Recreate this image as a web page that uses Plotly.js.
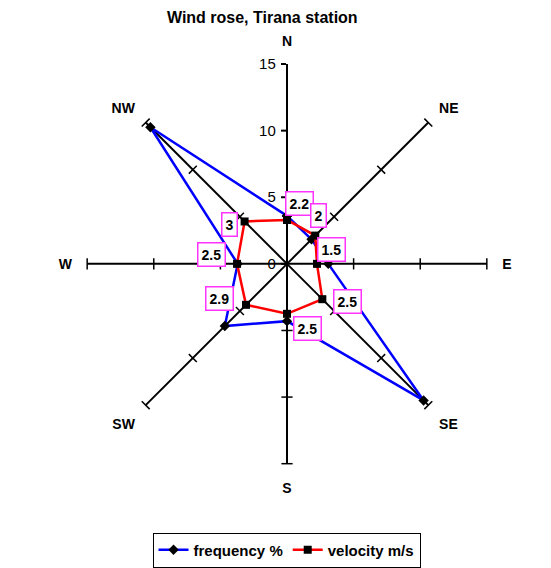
<!DOCTYPE html>
<html><head><meta charset="utf-8">
<script src="https://cdn.plot.ly/plotly-3.0.1.min.js"></script>
<style>html,body{margin:0;padding:0;background:#fff}#chart{width:551px;height:568px}</style>
</head><body><div id="chart"></div>
<script>
// ---- data ----
const directions = ['N', 'NE', 'E', 'SE', 'S', 'SW', 'W', 'NW'];
const frequency = [3.6, 2.6, 3.1, 14.5, 4.3, 6.6, 3.7, 14.5];          // frequency %
const velocityPlotted = [3.3, 3.0, 2.25, 3.75, 3.75, 4.35, 3.75, 4.5];  // radius of velocity marks on the chart scale
const velocityLabels = [2.2, 2, 1.5, 2.5, 2.5, 2.9, 2.5, 3];            // velocity m/s shown in data labels
const radialTicks = [0, 5, 10, 15];

// ---- style / layout (not data) ----
const W = 551, H = 568, CX = 287, CY = 272, R = 206;
const labelShiftX = [12, 2, 14, 24, 20, -25, -24, -14];
const labelShiftY = [16, 20, 14, -2, -15, 6, 9, -3];
const FONT = 'Liberation Sans, Arial, Helvetica, sans-serif';

const domX = [(CX - R) / W, (CX + R) / W];
const domY = [(H - CY - R) / H, (H - CY + R) / H];
const rMax = radialTicks[radialTicks.length - 1];

function closeLoop(a) { return a.concat([a[0]]); }
const angleOf = d => 45 * directions.indexOf(d);

// spoke tick marks (except N, which is the radial axis itself)
const tickR = [], tickT = [], tickA = [];
directions.forEach(d => {
  if (d === 'N') return;
  radialTicks.slice(1).forEach(v => { tickR.push(v); tickT.push(d); tickA.push(angleOf(d)); });
});

// label anchor points on a hidden cartesian overlay matching the polar area
const lx = directions.map((d, i) => velocityPlotted[i] * Math.sin(angleOf(d) * Math.PI / 180));
const ly = directions.map((d, i) => velocityPlotted[i] * Math.cos(angleOf(d) * Math.PI / 180));

const traces = [
  {
    type: 'scatterpolar', r: tickR, theta: tickT, mode: 'markers',
    marker: { symbol: 'line-ew', size: 8, angle: tickA, color: '#000', line: { color: '#000', width: 1.5 } },
    showlegend: false, hoverinfo: 'skip'
  },
  {
    type: 'scatterpolar', name: 'frequency %',
    r: closeLoop(frequency), theta: closeLoop(directions), mode: 'lines+markers',
    line: { color: '#0000ff', width: 2.5 },
    marker: { symbol: 'diamond', size: 8, color: '#000' }
  },
  {
    type: 'scatterpolar', name: 'velocity m/s',
    r: closeLoop(velocityPlotted), theta: closeLoop(directions), mode: 'lines+markers',
    line: { color: '#ff0000', width: 2.5 },
    marker: { symbol: 'square', size: 8, color: '#000' }
  },
  {
    type: 'scatter', x: lx, y: ly, mode: 'markers', xaxis: 'x', yaxis: 'y',
    marker: { opacity: 0, size: 1 }, showlegend: false, hoverinfo: 'skip'
  }
];

const annotations = directions.map((d, i) => ({
  xref: 'x', yref: 'y', x: lx[i], y: ly[i], text: String(velocityLabels[i]),
  showarrow: false, xshift: labelShiftX[i], yshift: labelShiftY[i],
  bgcolor: '#ffffff', bordercolor: '#ff33ff', borderwidth: 1.5, borderpad: 3,
  font: { family: FONT, size: 14, color: '#000', weight: 'bold' }
}));

const layout = {
  width: W, height: H,
  margin: { l: 0, r: 0, t: 0, b: 0 },
  paper_bgcolor: '#fff', plot_bgcolor: 'rgba(0,0,0,0)',
  font: { family: FONT, color: '#000' },
  title: {
    text: 'Wind rose, Tirana station', x: 0.476, xanchor: 'center', y: 1 - 17 / H, yanchor: 'middle',
    font: { family: FONT, size: 16, color: '#000', weight: 'bold' }
  },
  polar: {
    domain: { x: domX, y: domY },
    bgcolor: '#fff',
    angularaxis: {
      type: 'category', categoryarray: directions, direction: 'clockwise', rotation: 90,
      showline: false, showgrid: true, gridcolor: '#000', gridwidth: 2,
      ticks: 'outside', ticklen: 12, tickcolor: 'rgba(0,0,0,0)',
      tickfont: { family: FONT, size: 14, color: '#000', weight: 'bold' }
    },
    radialaxis: {
      range: [0, rMax], angle: 90, side: 'counterclockwise', tickvals: radialTicks, tickangle: 90,
      showline: true, linecolor: '#000', linewidth: 2, showgrid: false,
      ticks: 'outside', ticklen: 5, tickwidth: 2, tickcolor: '#000',
      tickfont: { family: FONT, size: 15, color: '#000' }
    }
  },
  xaxis: { domain: domX, range: [-rMax, rMax], visible: false, fixedrange: true },
  yaxis: { domain: domY, range: [-rMax, rMax], visible: false, fixedrange: true },
  showlegend: true,
  legend: {
    orientation: 'h', x: 0.52, xanchor: 'center', y: 1 - 549 / H, yanchor: 'top',
    bordercolor: '#000', borderwidth: 1, bgcolor: '#fff',
    font: { family: FONT, size: 15, color: '#000', weight: 'bold' }
  },
  annotations: annotations
};

Plotly.newPlot('chart', traces, layout, { staticPlot: true, displayModeBar: false });
</script>
</body></html>
